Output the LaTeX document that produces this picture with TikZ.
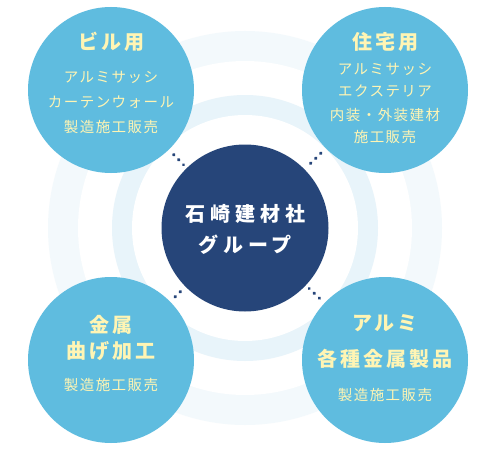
\documentclass[tikz,border=0pt]{standalone}
\usepackage{fontspec}
\newfontfamily\jpsmall[LetterSpace=10]{Noto Sans CJK JP}
\newfontfamily\jptitle[LetterSpace=15]{Noto Sans CJK JP}
\newfontfamily\jpcenter[LetterSpace=25]{Noto Sans CJK JP}
\definecolor{sky}{HTML}{5FBCDF}
\definecolor{navy}{HTML}{264579}
\definecolor{cream}{HTML}{FFF5B4}
\definecolor{ringA}{HTML}{F3F9FC}
\definecolor{ringB}{HTML}{E8F4FA}
\tikzset{
  bubble/.style={circle,fill=sky,minimum size=166pt,inner sep=0pt},
  hubc/.style={circle,fill=navy,minimum size=167pt,inner sep=0pt},
  ttl/.style={text=cream,font=\jptitle\bfseries\fontsize{20}{24}\selectfont,inner sep=0pt,anchor=center},
  sml/.style={text=cream,font=\jpsmall\fontsize{14.5}{17}\selectfont,inner sep=0pt,anchor=center},
  ctr/.style={text=white,font=\jpcenter\bfseries\fontsize{20}{24}\selectfont,inner sep=0pt,anchor=center},
  dotline/.style={navy,line width=3.2pt,line cap=round,dash pattern=on 0.6pt off 6.5pt,shorten <=6.7pt,shorten >=4.5pt}
}
\begin{document}
\begin{tikzpicture}[x=1pt,y=-1pt]
\useasboundingbox (0,0) rectangle (490,460);
\fill[white] (0,0) rectangle (490,460);
\fill[ringA] (245,228) circle (197pt);
\fill[white] (245,228) circle (167pt);
\fill[ringB] (245,228) circle (133pt);
\fill[white] (245,228) circle (113pt);

\node[hubc] (hub) at (245,228) {};
\node[bubble] (tl) at (111,90) {};
\node[bubble] (tr) at (385,90) {};
\node[bubble] (bl) at (111,360) {};
\node[bubble] (br) at (385,360) {};

\draw[dotline] (tl) -- (hub);
\draw[dotline] (tr) -- (hub);
\draw[dotline] (bl) -- (hub);
\draw[dotline] (br) -- (hub);

\node[ctr] (h1) at (245,214) {石崎建材社};
\node[ctr] (h2) at (245,245) {グループ};

\node[ttl] (tl0) at (111,42) {ビル用};
\node[sml] (tl1) at (111,77) {アルミサッシ};
\node[sml] (tl2) at (111,102) {カーテンウォール};
\node[sml] (tl3) at (111,127) {製造施工販売};

\node[ttl] (tr0) at (385,42) {住宅用};
\node[sml] (tr1) at (385,69) {アルミサッシ};
\node[sml] (tr2) at (385,91) {エクステリア};
\node[sml] (tr3) at (385,115) {内装・外装建材};
\node[sml] (tr4) at (385,137) {施工販売};

\node[ttl] (bl0) at (111,325) {金属};
\node[ttl] (bl1) at (111,351) {曲げ加工};
\node[sml] (bl2) at (111,385) {製造施工販売};

\node[ttl] (br0) at (385,323) {アルミ};
\node[ttl] (br1) at (385,359) {各種金属製品};
\node[sml] (br2) at (385,395) {製造施工販売};
\end{tikzpicture}
\end{document}
